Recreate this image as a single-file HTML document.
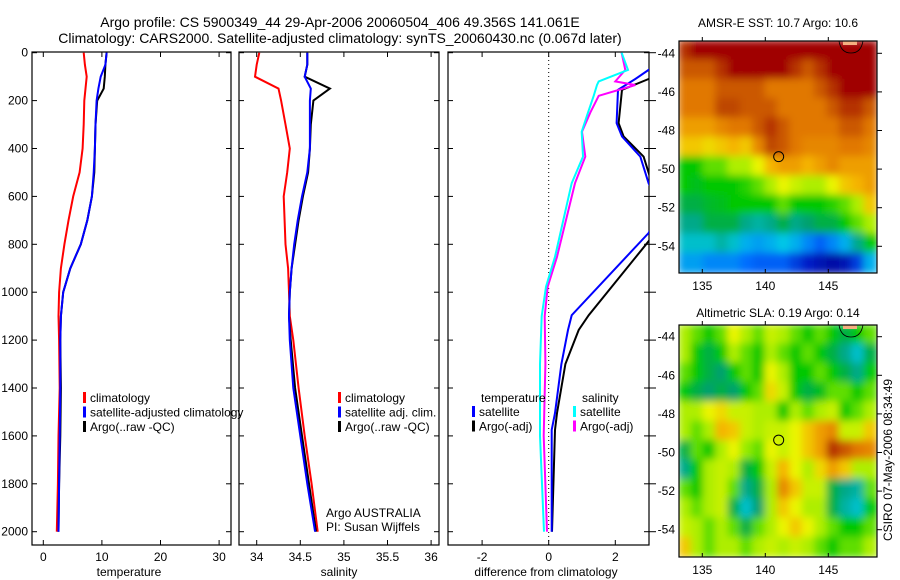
<!DOCTYPE html>
<html><head><meta charset="utf-8"><style>
html,body{margin:0;padding:0;background:#fff;}
svg{display:block;font-family:"Liberation Sans",sans-serif;}
text{font-size:12px;fill:#000;}
</style></head><body>
<svg id="fig" width="900" height="580" viewBox="0 0 900 580" xmlns="http://www.w3.org/2000/svg">
<defs>
<clipPath id="c1"><rect x="32" y="52" width="199" height="493"/></clipPath>
<clipPath id="c2"><rect x="239" y="52" width="200" height="493"/></clipPath>
<clipPath id="c3"><rect x="448" y="52" width="201" height="493"/></clipPath>
<clipPath id="m1"><rect x="679" y="41" width="198" height="232"/></clipPath>
<clipPath id="m2"><rect x="679" y="325" width="198" height="232"/></clipPath>
<filter id="bl" x="-5%" y="-5%" width="110%" height="110%"><feGaussianBlur stdDeviation="4"/></filter>
</defs>
<text x="340" y="27" text-anchor="middle" style="font-size:14px">Argo profile: CS 5900349_44 29-Apr-2006 20060504_406 49.356S 141.061E</text>
<text x="340" y="43" text-anchor="middle" style="font-size:14px">Climatology: CARS2000. Satellite-adjusted climatology: synTS_20060430.nc (0.067d later)</text>
<g id="g1"></g>
<g id="g2"></g>
<g id="g3"></g>
<g id="gm1"></g>
<g id="gm2"></g>
<text x="129" y="576" text-anchor="middle">temperature</text>
<text x="339" y="576" text-anchor="middle">salinity</text>
<text x="546" y="576" text-anchor="middle">difference from climatology</text>
<text x="326" y="517">Argo AUSTRALIA</text>
<text x="326" y="531">PI: Susan Wijffels</text>
<text x="778" y="27" text-anchor="middle">AMSR-E SST: 10.7 Argo: 10.6</text>
<text x="778" y="317" text-anchor="middle">Altimetric SLA: 0.19 Argo: 0.14</text>
<text transform="translate(892,460) rotate(-90)" text-anchor="middle">CSIRO 07-May-2006 08:34:49</text>
</svg>
<script>
const depths=[0,50,100,150,200,300,400,500,600,700,800,900,1000,1100,1200,1400,1600,1800,2000];
const climT=[6.9,7.1,7.4,7.2,7.0,6.9,6.7,6.2,5.1,4.3,3.6,3.0,2.7,2.6,2.7,2.8,2.6,2.5,2.3];
const satT=[10.8,10.6,9.8,9.4,9.1,8.9,8.8,8.6,8.3,7.5,6.4,4.6,3.4,3.0,2.9,2.9,2.8,2.7,2.6];
const argoT=[10.8,10.6,10.5,10.3,9.2,8.9,8.8,8.7,8.3,7.5,6.4,4.6,3.4,3.0,2.9,3.0,2.9,2.7,2.6];
const climS=[34.03,34.0,33.98,34.25,34.28,34.33,34.38,34.35,34.31,34.32,34.33,34.36,34.37,34.38,34.42,34.48,34.55,34.63,34.70];
const satS=[34.58,34.58,34.55,34.62,34.61,34.61,34.61,34.58,34.52,34.47,34.43,34.40,34.38,34.37,34.38,34.42,34.50,34.58,34.67];
const argoS=[34.58,34.58,34.55,34.84,34.65,34.62,34.61,34.59,34.53,34.48,34.44,34.40,34.38,34.37,34.39,34.44,34.52,34.60,34.68];
const dDepthT=[0,72,110,155,294,350,434,545,650,753,1096,1158,1300,1505,1575,2000];
const satDT=[3.9,3.0,2.6,2.08,2.04,2.2,2.75,3.0,3.4,3.0,0.69,0.58,0.38,0.19,0.09,0.09];
const argoDT=[4.2,3.6,3.0,2.2,2.1,2.25,2.85,3.1,3.5,3.2,1.2,0.9,0.5,0.25,0.19,0.1];
const dDepthS=[0,72,120,135,180,250,330,434,545,852,977,1100,1300,1600,2000];
const satDS=[2.19,2.38,1.5,1.45,1.35,1.18,0.99,1.03,0.69,0.19,-0.08,-0.21,-0.26,-0.26,-0.14];
const argoDS=[2.19,2.3,2.0,2.6,1.5,1.25,1.0,1.1,0.79,0.25,-0.03,-0.12,-0.1,-0.15,-0.05];
const depthTicks=[0,200,400,600,800,1000,1200,1400,1600,1800,2000];
const tTicks=[0,10,20,30];
const sTicks=[34,34.5,35,35.5,36];
const dTicks=[-2,0,2];
const lonTicks=[135,140,145];
const latTicks=[44,46,48,50,52,54];
const argoLon=141.061, argoLat=49.356;
const sstGrid=[
[0.9,0.95,1,1,1,1,1,1,1,1,1,1,1,1,1,1],
[0.85,0.85,0.85,0.9,1,1,1,1,1,0.9,0.85,0.9,1,1,1,1],
[0.8,0.8,0.8,0.85,0.85,0.85,0.85,0.8,0.8,0.8,0.8,0.85,0.9,1,1,1],
[0.8,0.8,0.8,0.88,0.88,0.85,0.85,0.85,0.8,0.8,0.8,0.8,0.85,0.9,0.9,0.85],
[0.75,0.75,0.75,0.78,0.8,0.8,0.85,0.9,0.85,0.8,0.8,0.8,0.8,0.85,0.85,0.8],
[0.7,0.7,0.68,0.7,0.72,0.7,0.78,0.88,0.85,0.8,0.78,0.78,0.78,0.8,0.8,0.78],
[0.5,0.5,0.55,0.55,0.6,0.6,0.65,0.72,0.75,0.75,0.72,0.75,0.78,0.75,0.75,0.75],
[0.5,0.48,0.5,0.5,0.5,0.52,0.55,0.6,0.65,0.62,0.6,0.6,0.65,0.7,0.72,0.75],
[0.45,0.45,0.47,0.48,0.5,0.5,0.5,0.5,0.55,0.5,0.5,0.5,0.52,0.55,0.6,0.7],
[0.4,0.4,0.45,0.45,0.45,0.4,0.38,0.4,0.45,0.4,0.42,0.45,0.45,0.5,0.55,0.6],
[0.35,0.35,0.35,0.38,0.35,0.3,0.28,0.3,0.33,0.3,0.25,0.2,0.25,0.3,0.4,0.5],
[0.28,0.28,0.25,0.25,0.25,0.22,0.2,0.2,0.2,0.15,0.1,0.07,0.05,0.07,0.15,0.3]];
const slaGrid=[
[.6,.55,.5,.55,.65,.6,.55,.62,.6,.55,.5,.55,.5,.45,.5,.55],
[.6,.5,.45,.5,.6,.55,.5,.6,.55,.5,.55,.5,.45,.4,.35,.45],
[.55,.5,.45,.42,.5,.55,.5,.65,.6,.5,.5,.55,.5,.45,.4,.5],
[.5,.45,.42,.45,.42,.5,.55,.68,.62,.5,.45,.48,.55,.55,.5,.55],
[.6,.6,.65,.68,.62,.62,.6,.6,.5,.6,.55,.6,.62,.5,.55,.6],
[.6,.55,.6,.72,.7,.62,.6,.62,.62,.65,.7,.75,.78,.62,.62,.7],
[.45,.55,.5,.6,.65,.58,.55,.65,.62,.65,.7,.75,.9,.85,.8,.78],
[.4,.5,.6,.62,.6,.45,.5,.62,.72,.65,.6,.68,.75,.7,.6,.6],
[.55,.5,.6,.62,.55,.4,.45,.6,.78,.7,.62,.62,.45,.4,.38,.55],
[.6,.55,.6,.62,.45,.35,.42,.6,.7,.65,.6,.6,.45,.38,.35,.5],
[.62,.6,.55,.6,.55,.45,.55,.6,.65,.7,.65,.6,.55,.5,.5,.55],
[.7,.6,.55,.6,.6,.55,.6,.62,.6,.62,.6,.55,.5,.55,.55,.6]];

const NS='http://www.w3.org/2000/svg';
function mk(tag,attrs,parent){const e=document.createElementNS(NS,tag);for(const k in attrs)e.setAttribute(k,attrs[k]);parent.appendChild(e);return e;}
const yD=d=>52.7+d*0.2395;
const xT=t=>43.3+t*5.86;
const xS=s=>256.7+(s-34)*87.2;
const xDf=v=>548.7+v*33.3;

function panel(g,x0,x1,ticks,xf,labelsLeft){
  const box=mk('rect',{x:x0,y:52,width:x1-x0,height:493,fill:'none',stroke:'#000','stroke-width':1.2},g);
  
  
  ticks.forEach(t=>{const x=xf(t);
    mk('line',{x1:x,x2:x,y1:52,y2:57,stroke:'#000'},g);
    mk('line',{x1:x,x2:x,y1:545,y2:540,stroke:'#000'},g);
    const tx=mk('text',{x:x,y:561,'text-anchor':'middle'},g);tx.textContent=String(t);
    
    
  });
  depthTicks.forEach(d=>{const y=yD(d);
    mk('line',{x1:x0,x2:x0+5,y1:y,y2:y,stroke:'#000'},g);
    mk('line',{x1:x1,x2:x1-5,y1:y,y2:y,stroke:'#000'},g);
    if(labelsLeft){const tx=mk('text',{x:x0-4,y:y+4,'text-anchor':'end'},g);tx.textContent=String(d);
      
      }
  });
}
function line(g,clip,ds,vs,xf,color,name,w){
  const pts=ds.map((d,i)=>xf(vs[i]).toFixed(1)+','+yD(d).toFixed(1)).join(' ');
  const p=mk('polyline',{points:pts,fill:'none',stroke:color,'stroke-width':w||2,'clip-path':'url(#'+clip+')'},g);
  
  
}
function legend(g,x,y,items){
  items.forEach((it,i)=>{const yy=y+i*14.5;
    mk('rect',{x:x,y:yy-10,width:3,height:11,fill:it[1]},g);
    const t=mk('text',{x:x+7,y:yy},g);t.textContent=it[0];
    
    
  });
}
const g1=document.getElementById('g1'),g2=document.getElementById('g2'),g3=document.getElementById('g3');
panel(g1,32,231,tTicks,xT,true);
line(g1,'c1',depths,climT,xT,'#f00','climatology-temperature-line');
line(g1,'c1',depths,argoT,xT,'#000','argo-temperature-line');
line(g1,'c1',depths,satT,xT,'#00f','satellite-temperature-line');
legend(g1,83,402,[['climatology','#f00'],['satellite-adjusted climatology','#00f'],['Argo(..raw -QC)','#000']]);
panel(g2,239,439,sTicks,xS,false);
line(g2,'c2',depths,climS,xS,'#f00','climatology-salinity-line');
line(g2,'c2',depths,argoS,xS,'#000','argo-salinity-line');
line(g2,'c2',depths,satS,xS,'#00f','satellite-salinity-line');
legend(g2,338,402,[['climatology','#f00'],['satellite adj. clim.','#00f'],['Argo(..raw -QC)','#000']]);
panel(g3,448,649,dTicks,xDf,false);
depthTicks.forEach(d=>mk('line',{x1:649,x2:656,y1:yD(d),y2:yD(d),stroke:'#000'},g3));
const zl=mk('line',{x1:xDf(0),x2:xDf(0),y1:52,y2:545,stroke:'#000','stroke-dasharray':'1,3'},g3);


line(g3,'c3',dDepthT,argoDT,xDf,'#000','argo-temperature-diff-line');
line(g3,'c3',dDepthT,satDT,xDf,'#00f','satellite-temperature-diff-line');
line(g3,'c3',dDepthS,argoDS,xDf,'#f0f','argo-salinity-diff-line');
line(g3,'c3',dDepthS,satDS,xDf,'#0ff','satellite-salinity-diff-line');
const lt=mk('text',{x:481,y:402},g3);lt.textContent='temperature';
const ls=mk('text',{x:582,y:402},g3);ls.textContent='salinity';
legend(g3,472,416,[['satellite','#00f'],['Argo(-adj)','#000']]);
legend(g3,573,416,[['satellite','#0ff'],['Argo(-adj)','#f0f']]);

const cmapStops=[[0,[0,0,130]],[0.1,[0,30,200]],[0.22,[0,110,255]],[0.33,[0,200,230]],[0.42,[0,160,110]],[0.5,[0,200,0]],[0.58,[150,235,0]],[0.65,[235,245,0]],[0.72,[245,180,0]],[0.8,[225,120,0]],[0.88,[190,70,0]],[0.95,[160,0,0]],[1,[160,0,0]]];
function cmap(v){
  v=Math.max(0,Math.min(1,v));
  for(let i=1;i<cmapStops.length;i++){
    const a=cmapStops[i-1],b=cmapStops[i];
    if(v<=b[0]){const f=(v-a[0])/(b[0]-a[0]||1);
      return 'rgb('+a[1].map((c,k)=>Math.round(c+(b[1][k]-c)*f)).join(',')+')';}
  }
  return 'rgb(160,0,0)';
}
function map(g,top,lat44y,grid,clip,name){
  const xL=lon=>702.3+(lon-135)*12.6;
  const yL=s=>lat44y+(s-44)*19.3;
  const lon0=133.15,lon1=148.86,s0=(top-lat44y)/19.3+44,s1=(top+232-lat44y)/19.3+44;
  const gg=mk('g',{'clip-path':'url(#'+clip+')'},g);
  const inner=mk('g',{filter:'url(#bl)'},gg);
  const nr=grid.length,nc=grid[0].length;
  const cw=(lon1-lon0)/nc,ch=(s1-s0)/nr;
  grid.forEach((row,r)=>row.forEach((v,c)=>{
    const x=xL(lon0+c*cw)-1,y=yL(s0+r*ch)-1;
    const cell=mk('rect',{x:x.toFixed(1),y:y.toFixed(1),width:(cw*12.6+2).toFixed(1),height:(ch*19.3+2).toFixed(1),fill:cmap(v)},inner);
    
    
  }));
  // extend edges so blur doesn't fade
  const cx=xL(146.8);
  mk('rect',{x:cx-8,y:top,width:14,height:4,fill:'#f5b080'},gg);
  mk('path',{d:'M'+(cx-12)+','+top+' q2,12 12,12 q10,0 12,-12',fill:'none',stroke:'#000','stroke-width':0.8},gg);
  const fr=mk('rect',{x:679,y:top,width:198,height:232,fill:'none',stroke:'#000','stroke-width':1.2},g);
  
  
  lonTicks.forEach(l=>{const x=xL(l);
    mk('line',{x1:x,x2:x,y1:top,y2:top-4,stroke:'#000'},g);
    mk('line',{x1:x,x2:x,y1:top+232,y2:top+228,stroke:'#000'},g);
    const t=mk('text',{x:x,y:top+249,'text-anchor':'middle'},g);t.textContent=String(l);
    
    });
  latTicks.forEach(s=>{const y=yL(s);
    mk('line',{x1:877,x2:882,y1:y,y2:y,stroke:'#000'},g);
    const t=mk('text',{x:675,y:y+4,'text-anchor':'end'},g);t.textContent='-'+s;
    
    });
  const m=mk('circle',{cx:xL(argoLon),cy:yL(argoLat),r:5,fill:'none',stroke:'#000','stroke-width':1},g);
  
  
}
map(document.getElementById('gm1'),41,53.3,sstGrid,'m1','sst-map');
map(document.getElementById('gm2'),325,336.7,slaGrid,'m2','sla-map');
</script>
</body></html>
